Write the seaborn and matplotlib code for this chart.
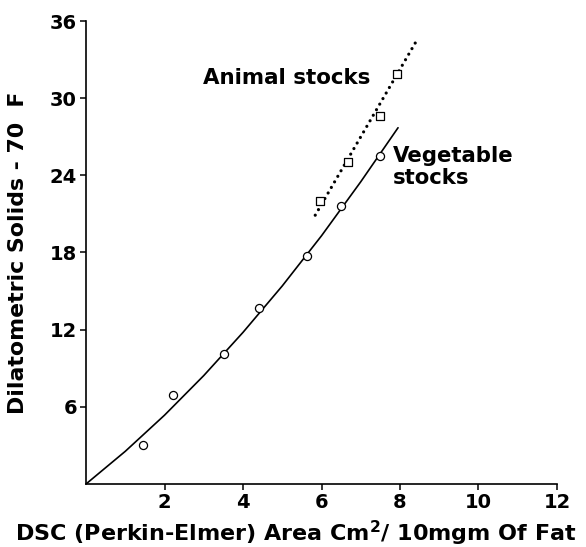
import numpy as np
import pandas as pd
import matplotlib
matplotlib.use("Agg")
import matplotlib.pyplot as plt
import seaborn as sns

# pontos
veg_x = [1.46, 2.21, 3.52, 4.41, 5.63, 6.50, 7.48]
veg_y = [3.0, 6.9, 10.1, 13.7, 17.7, 21.6, 25.5]

animal_x = [5.97, 6.67, 7.48, 7.93]
animal_y = [22.0, 25.0, 28.6, 31.9]

# curva continua (vegetal) e reta pontilhada (animal)
veg_curve_x = [0, 1, 2, 3, 4, 5, 6, 7, 7.95]
veg_curve_y = [0, 2.54, 5.35, 8.43, 11.79, 15.4, 19.3, 23.5, 27.7]

animal_line_x = [5.84, 8.39]
animal_line_y = [20.9, 34.3]

x_ticks = [2, 4, 6, 8, 10, 12]
y_ticks = [6, 12, 18, 24, 30, 36]

sns.set_style("ticks")
plt.rcParams['font.family'] = ['DejaVu Sans']
plt.rcParams['font.weight'] = 'bold'
plt.rcParams['text.color'] = 'black'
plt.rcParams['axes.labelcolor'] = 'black'
plt.rcParams['xtick.color'] = 'black'
plt.rcParams['ytick.color'] = 'black'

fig = plt.figure(figsize=(5.86, 5.47), dpi=100)
ax = fig.add_axes([0.1468, 0.1152, 0.8037, 0.8464])

df_veg = pd.DataFrame({"x": veg_x, "y": veg_y})
df_animal = pd.DataFrame({"x": animal_x, "y": animal_y})

sns.lineplot(x=veg_curve_x, y=veg_curve_y, ax=ax, color="black",
             linewidth=1.2, sort=False)
sns.lineplot(x=animal_line_x, y=animal_line_y, ax=ax, color="black",
             linewidth=2.3, sort=False, dashes=False)
ax.lines[-1].set_linestyle((0, (0.01, 2.0)))
ax.lines[-1].set_dash_capstyle("round")

sns.scatterplot(data=df_veg, x="x", y="y", ax=ax, marker="o", s=34,
                facecolor="white", edgecolor="black", linewidth=0.9, zorder=3)
sns.scatterplot(data=df_animal, x="x", y="y", ax=ax, marker="s", s=30,
                facecolor="white", edgecolor="black", linewidth=0.9, zorder=3)

ax.set_xlim(0, 12)
ax.set_ylim(0, 36)
ax.set_xticks(x_ticks)
ax.set_yticks(y_ticks)
ax.set_xticklabels([str(t) for t in x_ticks], fontsize=14, fontweight="bold")
ax.set_yticklabels([str(t) for t in y_ticks], fontsize=14, fontweight="bold")
ax.tick_params(direction="out", length=4.5, width=1.1, pad=2, color="black")

sns.despine(ax=ax)
for s in ["left", "bottom"]:
    ax.spines[s].set_linewidth(1.2)
    ax.spines[s].set_color("black")

ax.set_xlabel("DSC (Perkin-Elmer) Area Cm$^{\\mathbf{2}}$/ 10mgm Of Fat",
              fontsize=16, fontweight="bold")
ax.xaxis.set_label_coords(0.446, -0.075)
ax.set_ylabel("Dilatometric Solids - 70  F", fontsize=15.8,
              fontweight="bold", labelpad=16)

ax.text(2.98, 31.1, "Animal stocks", fontsize=15.4, fontweight="bold",
        ha="left", va="baseline")
ax.text(7.83, 26.3, "Vegetable\nstocks", fontsize=15.3, fontweight="bold",
        ha="left", va="top", linespacing=1.12)

fig.savefig("out.png", dpi=100)
